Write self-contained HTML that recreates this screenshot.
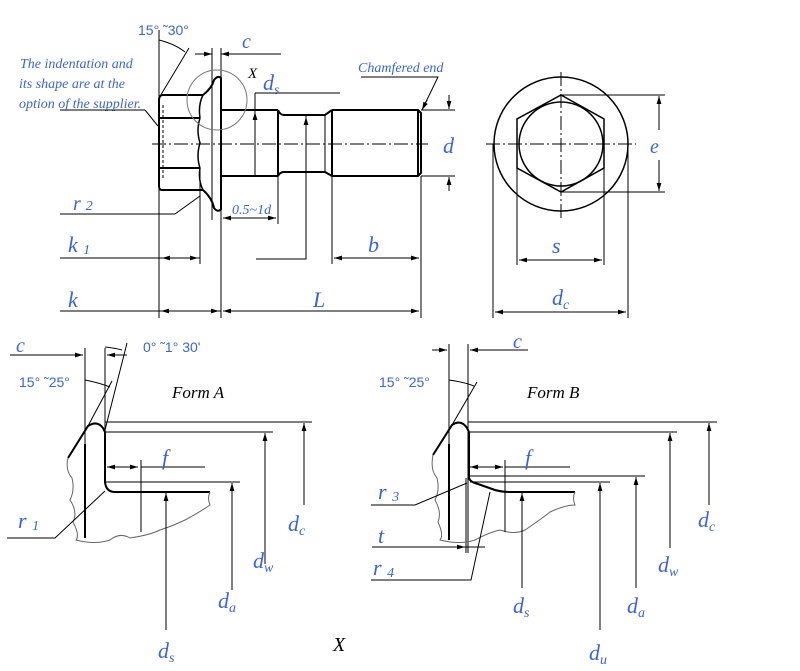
<!DOCTYPE html>
<html><head><meta charset="utf-8"><style>
html,body{margin:0;padding:0;background:#fff;}
svg{display:block}
.b{fill:#3b64d8;font-family:"Liberation Serif",serif;font-style:italic}
.s{fill:#3b64d8;font-family:"Liberation Sans",sans-serif;font-size:14px}
.k{fill:#000;font-family:"Liberation Serif",serif;font-style:italic}
</style></head><body>
<svg width="800" height="671" viewBox="0 0 800 671" xmlns="http://www.w3.org/2000/svg">
<defs>
<marker id="a" viewBox="0 0 10 6" refX="10" refY="3" markerWidth="8" markerHeight="5" orient="auto-start-reverse"><path d="M0,0 L10,3 L0,6 z" fill="#000"/></marker>
</defs>
<g stroke="#000" fill="none" stroke-width="1">
<!-- main view head -->
<path d="M162,95 H203 M159,118 H200 M159,168 H200 M162,190 H203" stroke-width="2"/>
<path d="M162,95 Q159,96 159,100 V186 Q159,190 162,190" stroke-width="2"/>
<path d="M203,95 Q212,88 214,80 Q218,75 221,78 V209 Q218,213 214,208 Q212,198 203,190" stroke-width="2"/>
<path d="M200,118 Q196,130 200,143 Q196,156 200,168" stroke-width="1.5"/>
<path d="M203,95 Q198,105 200,118 M200,168 Q198,180 203,190" stroke-width="1.5"/>
<line x1="212" y1="48" x2="212" y2="220"/>
<line x1="221" y1="48" x2="221" y2="318"/>
<line x1="163" y1="105" x2="163" y2="180" stroke-dasharray="3,2"/>
<!-- shank -->
<path d="M221,110 H278 M221,176 H278 M278,110 V176 M278,110 Q280,115 284,115 H325 L332,110 M278,176 Q280,172 284,172 H325 L332,176 M332,110 H418 L421,113 V173 L418,176 H332 M332,110 V176 M418,110 V176" stroke-width="2"/>
<line x1="325" y1="115" x2="325" y2="172"/>
<line x1="152" y1="144" x2="428" y2="144" stroke-dasharray="14,3,2,3"/>
<circle cx="217" cy="100" r="30" stroke="#777"/>
<!-- dims main -->
<line x1="159" y1="30" x2="159" y2="318"/>
<path d="M159,40 Q175,44 185,52"/>
<line x1="159" y1="98" x2="189" y2="48"/>
<line x1="195" y1="54" x2="212" y2="54" marker-end="url(#a)"/>
<line x1="281" y1="54" x2="221" y2="54" marker-end="url(#a)"/>
<line x1="60" y1="110" x2="145" y2="110"/>
<path d="M145,110 L158,126"/>
<line x1="60" y1="214" x2="175" y2="214"/>
<path d="M175,214 L200,196"/>
<line x1="200" y1="168" x2="200" y2="264"/>
<line x1="60" y1="258" x2="200" y2="258"/>
<line x1="162" y1="258" x2="198" y2="258" marker-start="url(#a)" marker-end="url(#a)"/>
<line x1="60" y1="311" x2="221" y2="311"/>
<line x1="161" y1="311" x2="219" y2="311" marker-start="url(#a)" marker-end="url(#a)"/>
<line x1="223" y1="311" x2="419" y2="311" marker-start="url(#a)" marker-end="url(#a)"/>
<line x1="421" y1="176" x2="421" y2="318"/>
<line x1="278" y1="176" x2="278" y2="224"/>
<line x1="223" y1="218" x2="276" y2="218" marker-start="url(#a)" marker-end="url(#a)"/>
<line x1="332" y1="176" x2="332" y2="264"/>
<line x1="334" y1="258" x2="419" y2="258" marker-start="url(#a)" marker-end="url(#a)"/>
<path d="M255,93 H340 M255,93 V176"/>
<line x1="255" y1="120" x2="255" y2="112" marker-end="url(#a)"/>
<path d="M256,259 H306 V116"/>
<line x1="306" y1="125" x2="306" y2="117" marker-end="url(#a)"/>
<path d="M361,77 H438 L423,108" />
<line x1="427" y1="100" x2="422" y2="110" marker-end="url(#a)"/>
<line x1="421" y1="110" x2="455" y2="110"/>
<line x1="421" y1="176" x2="455" y2="176"/>
<line x1="449" y1="95" x2="449" y2="109" marker-end="url(#a)"/>
<line x1="449" y1="191" x2="449" y2="177" marker-end="url(#a)"/>
<!-- end view -->
<circle cx="561" cy="144" r="67" stroke-width="1.5"/>
<circle cx="561" cy="144" r="42" stroke-width="1.5"/>
<path d="M561,95 L604,119 V168 L561,192 L517,168 V119 Z" stroke-width="1.5"/>
<line x1="486" y1="144" x2="636" y2="144" stroke-dasharray="14,3,2,3"/>
<line x1="561" y1="72" x2="561" y2="218" stroke-dasharray="14,3,2,3"/>
<line x1="561" y1="95" x2="665" y2="95"/>
<line x1="561" y1="192" x2="665" y2="192"/>
<line x1="659" y1="130" x2="659" y2="96" marker-end="url(#a)"/>
<line x1="659" y1="160" x2="659" y2="191" marker-end="url(#a)"/>
<line x1="517" y1="168" x2="517" y2="265"/>
<line x1="604" y1="168" x2="604" y2="265"/>
<line x1="519" y1="260" x2="602" y2="260" marker-start="url(#a)" marker-end="url(#a)"/>
<line x1="493" y1="144" x2="493" y2="318"/>
<line x1="628" y1="144" x2="628" y2="318"/>
<line x1="495" y1="312" x2="626" y2="312" marker-start="url(#a)" marker-end="url(#a)"/>

<!-- Form A -->
<path d="M68,458 L88,426 Q97,420 103,428 L105,432 V482 Q106,492 115,492 H210" stroke-width="2"/>
<line x1="85" y1="444" x2="85" y2="538" stroke-width="2"/>
<line x1="85" y1="348" x2="85" y2="444"/>
<line x1="105" y1="348" x2="105" y2="432"/>
<line x1="10" y1="355" x2="83" y2="355" marker-end="url(#a)"/>
<line x1="127" y1="355" x2="107" y2="355" marker-end="url(#a)"/>
<line x1="105" y1="430" x2="127" y2="343"/>
<path d="M105,347 Q115,348 122,350"/>
<line x1="88" y1="426" x2="112" y2="381"/>
<path d="M85,380 Q100,383 110,387"/>
<path d="M68,458 Q65,470 72,478 Q75,490 70,500 Q78,512 73,522 Q80,535 76,540 Q95,545 110,540 Q120,532 130,538 Q150,535 160,530 Q175,525 185,520 Q200,512 210,505 Q207,498 210,492" stroke="#666"/>
<line x1="105" y1="422" x2="312" y2="422"/>
<line x1="106" y1="432" x2="273" y2="432"/>
<line x1="106" y1="482" x2="240" y2="482"/>
<line x1="107" y1="467" x2="138" y2="467" marker-start="url(#a)" marker-end="url(#a)"/>
<line x1="141" y1="460" x2="205" y2="467" stroke="none"/>
<line x1="141" y1="467" x2="205" y2="467"/>
<line x1="141" y1="460" x2="141" y2="532"/>
<line x1="304" y1="505" x2="304" y2="423" marker-end="url(#a)"/>
<line x1="265" y1="564" x2="265" y2="433" marker-end="url(#a)"/>
<line x1="232" y1="590" x2="232" y2="483" marker-end="url(#a)"/>
<line x1="166" y1="630" x2="166" y2="493" marker-end="url(#a)"/>
<path d="M7,538 H55 L105,491" />

<!-- Form B -->
<path d="M433,455 L452,425 Q461,419 467,428 L469,432 V478 Q470,482 478,484 L495,490 Q502,492 510,492 H575" stroke-width="2"/>
<line x1="449" y1="444" x2="449" y2="540" stroke-width="2"/>
<line x1="449" y1="344" x2="449" y2="444"/>
<line x1="468" y1="344" x2="468" y2="553"/>
<line x1="466" y1="478" x2="466" y2="553"/>
<line x1="432" y1="350" x2="447" y2="350" marker-end="url(#a)"/>
<line x1="528" y1="350" x2="470" y2="350" marker-end="url(#a)"/>
<line x1="452" y1="425" x2="477" y2="382"/>
<path d="M449,380 Q464,382 474,386"/>
<path d="M433,455 Q430,470 437,478 Q440,490 435,500 Q442,512 438,522 Q444,535 440,540 Q460,545 475,540 Q490,532 500,530 Q515,535 525,530 Q540,520 550,512 Q565,505 575,505 Q572,498 575,492" stroke="#666"/>
<line x1="468" y1="422" x2="717" y2="422"/>
<line x1="469" y1="432" x2="677" y2="432"/>
<line x1="469" y1="476" x2="645" y2="476"/>
<line x1="470" y1="482" x2="610" y2="482"/>
<line x1="470" y1="467" x2="503" y2="467" marker-start="url(#a)" marker-end="url(#a)"/>
<line x1="505" y1="467" x2="570" y2="467"/>
<line x1="505" y1="460" x2="505" y2="532"/>
<line x1="709" y1="505" x2="709" y2="423" marker-end="url(#a)"/>
<line x1="670" y1="548" x2="670" y2="433" marker-end="url(#a)"/>
<line x1="636" y1="588" x2="636" y2="477" marker-end="url(#a)"/>
<line x1="600" y1="630" x2="600" y2="483" marker-end="url(#a)"/>
<line x1="522" y1="588" x2="522" y2="493" marker-end="url(#a)"/>
<path d="M371,505 H415 L467,483"/>
<line x1="372" y1="547" x2="485" y2="547"/>
<line x1="450" y1="547" x2="465" y2="547" marker-end="url(#a)"/>
<path d="M371,580 H471 L490,492"/>
</g>
<!-- text -->
<text class="s" x="138" y="35">15°  ˜30°</text>
<text class="b" x="20" y="68" font-size="14">The indentation and</text>
<text class="b" x="19" y="88" font-size="14">its shape are at the</text>
<text class="b" x="19" y="108" font-size="14">option of the supplier.</text>
<text class="b" x="242" y="48" font-size="20">c</text>
<text class="k" x="248" y="78" font-size="15">X</text>
<text class="b" x="263" y="90" font-size="22">d<tspan font-size="14" dy="4">s</tspan></text>
<text class="b" x="358" y="72" font-size="14">Chamfered end</text>
<text class="b" x="443" y="153" font-size="22">d</text>
<text class="b" x="73" y="210" font-size="20">r <tspan font-size="14">2</tspan></text>
<text class="b" x="232" y="214" font-size="14">0.5~1d</text>
<text class="b" x="68" y="252" font-size="22">k <tspan font-size="14" dy="2">1</tspan></text>
<text class="b" x="368" y="252" font-size="22">b</text>
<text class="b" x="68" y="307" font-size="22">k</text>
<text class="b" x="313" y="307" font-size="22">L</text>
<text class="b" x="650" y="153" font-size="20">e</text>
<text class="b" x="552" y="253" font-size="22">s</text>
<text class="b" x="552" y="305" font-size="22">d<tspan font-size="14" dy="4">c</tspan></text>
<text class="b" x="16" y="352" font-size="20">c</text>
<text class="s" x="143" y="352">0°  ˜1°  30'</text>
<text class="s" x="19" y="387">15°  ˜25°</text>
<text class="k" x="172" y="398" font-size="17">Form A</text>
<text class="b" x="162" y="465" font-size="22">f</text>
<text class="b" x="18" y="528" font-size="22">r <tspan font-size="14" dy="2">1</tspan></text>
<text class="b" x="288" y="531" font-size="22">d<tspan font-size="14" dy="4">c</tspan></text>
<text class="b" x="253" y="568" font-size="22">d<tspan font-size="14" dy="4">w</tspan></text>
<text class="b" x="218" y="608" font-size="22">d<tspan font-size="14" dy="4">a</tspan></text>
<text class="b" x="158" y="658" font-size="22">d<tspan font-size="14" dy="4">s</tspan></text>
<text class="k" x="333" y="651" font-size="20">X</text>
<text class="b" x="513" y="348" font-size="20">c</text>
<text class="s" x="379" y="387">15°  ˜25°</text>
<text class="k" x="527" y="398" font-size="17">Form B</text>
<text class="b" x="525" y="465" font-size="22">f</text>
<text class="b" x="378" y="499" font-size="22">r <tspan font-size="14" dy="2">3</tspan></text>
<text class="b" x="378" y="543" font-size="22">t</text>
<text class="b" x="373" y="575" font-size="22">r <tspan font-size="14" dy="2">4</tspan></text>
<text class="b" x="698" y="527" font-size="22">d<tspan font-size="14" dy="4">c</tspan></text>
<text class="b" x="658" y="572" font-size="22">d<tspan font-size="14" dy="4">w</tspan></text>
<text class="b" x="627" y="613" font-size="22">d<tspan font-size="14" dy="4">a</tspan></text>
<text class="b" x="513" y="613" font-size="22">d<tspan font-size="14" dy="4">s</tspan></text>
<text class="b" x="589" y="660" font-size="22">d<tspan font-size="14" dy="4">u</tspan></text>
</svg>
</body></html>
